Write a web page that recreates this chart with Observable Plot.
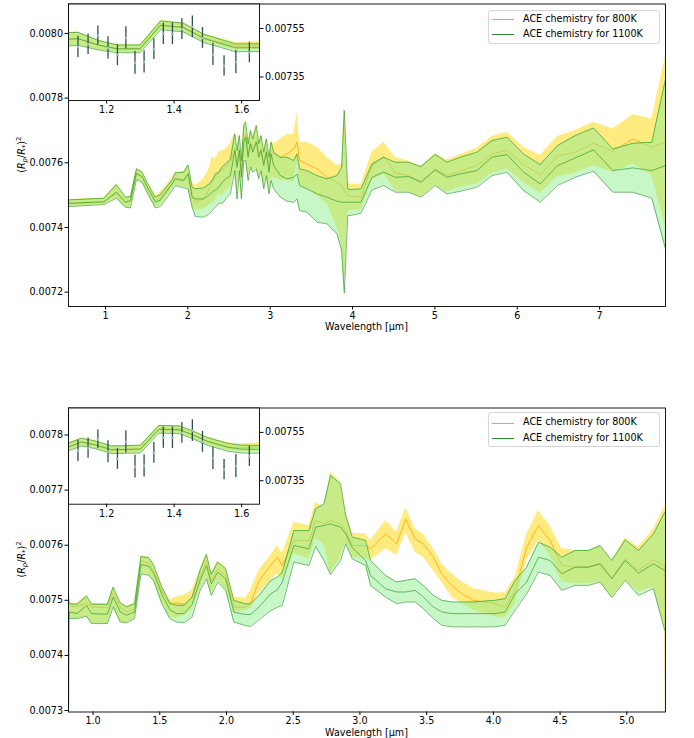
<!DOCTYPE html>
<html><head><meta charset="utf-8">
<script src="https://cdn.jsdelivr.net/npm/d3@7"></script>
<script src="https://cdn.jsdelivr.net/npm/@observablehq/plot@0.6"></script>
<style>
body{margin:0;background:#fff;font-family:"DejaVu Sans",sans-serif;}
#fig{position:relative;width:694px;height:738px;overflow:hidden;background:#fff;}
#fig svg{position:absolute;left:0;}
.legend{position:absolute;border:1px solid #d6d6d6;border-radius:3px;background:rgba(255,255,255,0.85);box-sizing:border-box;font-size:9.6px;color:#000;}
.legend .sw{position:absolute;left:3px;width:22px;height:0;border-top:1.2px solid;}
.legend .lb{position:absolute;left:34px;line-height:12px;white-space:nowrap;}
</style></head><body><div id="fig"></div>
<script>
// ---------- TOP PANEL (full spectrum) ----------
const topWl = [0.551, 0.98, 1.133, 1.243, 1.303, 1.376, 1.445, 1.514, 1.607, 1.667,
 1.809, 1.849, 1.95, 2.003, 2.052, 2.092, 2.19, 2.25, 2.295, 2.335,
 2.375, 2.42, 2.46, 2.517, 2.57, 2.598, 2.626, 2.651, 2.679, 2.703,
 2.732, 2.76, 2.788, 2.833, 2.861, 2.889, 2.922, 2.954, 2.986, 3.011,
 3.043, 3.124, 3.205, 3.286, 3.326, 3.358, 3.447, 3.569, 3.69, 3.812,
 3.868, 3.9, 3.941, 3.973, 4.103, 4.236, 4.378, 4.519, 4.681, 4.831,
 5.005, 5.146, 5.308, 5.51, 5.692, 5.875, 6.077, 6.279, 6.489, 6.704,
 6.926, 7.161, 7.404, 7.634, 7.80];
const top800Up = [0.0074863, 0.0074914, 0.0075347, 0.0074935, 0.0074956, 0.0075831, 0.0075728, 0.0075367, 0.0074986, 0.0075090,
 0.0075532, 0.0075708, 0.0075728, 0.0075934, 0.0075399, 0.0075296, 0.0075502, 0.0075759, 0.0076171, 0.0076120,
 0.0076326, 0.0076377, 0.0076429, 0.0076583, 0.0076944, 0.0076429, 0.0076892, 0.0076119, 0.0077201, 0.0077304,
 0.0076635, 0.0077046, 0.0076789, 0.0077201, 0.0076635, 0.0076892, 0.0076377, 0.0076789, 0.0076222, 0.0076686,
 0.0076583, 0.0076738, 0.0076871, 0.0076871, 0.0077562, 0.0076635, 0.0076635, 0.0076480, 0.0076171, 0.0075914,
 0.0075965, 0.0077798, 0.0075399, 0.0075347, 0.0075326, 0.0076326, 0.0076635, 0.0076171, 0.0076047, 0.0075883,
 0.0076295, 0.0076089, 0.0076253, 0.0076449, 0.0076809, 0.0076944, 0.0076480, 0.0076222, 0.0076809, 0.0076995,
 0.0077253, 0.0077046, 0.0077489, 0.0077356, 0.0079312];
const top800Mid = [0.0074729, 0.0074791, 0.0075069, 0.0074770, 0.0074811, 0.0075656, 0.0075553, 0.0075203, 0.0074832, 0.0074914,
 0.0075367, 0.0075522, 0.0075471, 0.0075677, 0.0074986, 0.0074781, 0.0074883, 0.0075141, 0.0075450, 0.0075553,
 0.0075708, 0.0075780, 0.0075862, 0.0076017, 0.0076459, 0.0075944, 0.0076459, 0.0075635, 0.0076717, 0.0076871,
 0.0076253, 0.0076665, 0.0076408, 0.0076717, 0.0076253, 0.0076459, 0.0075996, 0.0076408, 0.0075790, 0.0076356,
 0.0076274, 0.0076171, 0.0076274, 0.0076429, 0.0076635, 0.0076068, 0.0075965, 0.0075811, 0.0075553, 0.0075399,
 0.0075296, 0.0075141, 0.0074986, 0.0074966, 0.0074935, 0.0075914, 0.0076192, 0.0075687, 0.0075605, 0.0075399,
 0.0075811, 0.0075605, 0.0075739, 0.0075914, 0.0076274, 0.0076398, 0.0075944, 0.0075635, 0.0076212, 0.0076326,
 0.0076604, 0.0076356, 0.0076738, 0.0076480, 0.0076635];
const top800Lo = [0.0074647, 0.0074708, 0.0074904, 0.0074626, 0.0074605, 0.0075481, 0.0075399, 0.0075038, 0.0074626, 0.0074678,
 0.0075162, 0.0075316, 0.0075244, 0.0075244, 0.0074626, 0.0074523, 0.0074574, 0.0074678, 0.0074750, 0.0074832,
 0.0075038, 0.0074986, 0.0075141, 0.0075244, 0.0075790, 0.0074914, 0.0075790, 0.0074914, 0.0076099, 0.0076099,
 0.0075481, 0.0075893, 0.0075739, 0.0075842, 0.0075533, 0.0075790, 0.0075224, 0.0075636, 0.0075069, 0.0075481,
 0.0075553, 0.0075450, 0.0075450, 0.0075399, 0.0076017, 0.0075296, 0.0075193, 0.0074986, 0.0074729, 0.0074008,
 0.0073493, 0.0072051, 0.0074471, 0.0074523, 0.0074544, 0.0075450, 0.0075656, 0.0075141, 0.0075090, 0.0074935,
 0.0075296, 0.0075090, 0.0075244, 0.0075347, 0.0075677, 0.0075811, 0.0075399, 0.0075059, 0.0075574, 0.0075677,
 0.0075914, 0.0075708, 0.0075965, 0.0075605, 0.0074008];
const top1100Up = [0.0074853, 0.0074904, 0.0075326, 0.0074935, 0.0074956, 0.0075811, 0.0075708, 0.0075347, 0.0074935, 0.0075017,
 0.0075471, 0.0075687, 0.0075708, 0.0075934, 0.0075244, 0.0075193, 0.0075223, 0.0075326, 0.0075450, 0.0075656,
 0.0075708, 0.0075883, 0.0075965, 0.0076119, 0.0076892, 0.0076377, 0.0076841, 0.0076068, 0.0077150, 0.0077253,
 0.0076583, 0.0076995, 0.0076738, 0.0077150, 0.0076583, 0.0076841, 0.0076326, 0.0076738, 0.0076171, 0.0076635,
 0.0076326, 0.0076171, 0.0076171, 0.0076068, 0.0076274, 0.0075811, 0.0075759, 0.0075605, 0.0075502, 0.0075605,
 0.0075862, 0.0077613, 0.0075193, 0.0075172, 0.0075193, 0.0075965, 0.0076171, 0.0076017, 0.0076017, 0.0075883,
 0.0076253, 0.0076017, 0.0076171, 0.0076326, 0.0076686, 0.0076789, 0.0076274, 0.0075944, 0.0076532, 0.0076841,
 0.0077077, 0.0076429, 0.0076604, 0.0076635, 0.0078592];
const top1100Mid = [0.0074750, 0.0074791, 0.0075090, 0.0074781, 0.0074832, 0.0075677, 0.0075574, 0.0075223, 0.0074781, 0.0074853,
 0.0075347, 0.0075502, 0.0075450, 0.0075656, 0.0074935, 0.0074883, 0.0074883, 0.0074986, 0.0075090, 0.0075162,
 0.0075244, 0.0075399, 0.0075502, 0.0075605, 0.0076377, 0.0075862, 0.0076377, 0.0075553, 0.0076635, 0.0076789,
 0.0076171, 0.0076583, 0.0076326, 0.0076635, 0.0076171, 0.0076377, 0.0075914, 0.0076326, 0.0075708, 0.0076274,
 0.0075914, 0.0075605, 0.0075502, 0.0075553, 0.0075656, 0.0075296, 0.0075193, 0.0075038, 0.0074935, 0.0074811,
 0.0074781, 0.0074781, 0.0074781, 0.0074781, 0.0074781, 0.0075553, 0.0075708, 0.0075553, 0.0075574, 0.0075399,
 0.0075780, 0.0075553, 0.0075656, 0.0075759, 0.0076171, 0.0076253, 0.0075708, 0.0075347, 0.0075914, 0.0076150,
 0.0076398, 0.0075759, 0.0075841, 0.0075759, 0.0075914];
const top1100Lo = [0.0074647, 0.0074708, 0.0074904, 0.0074626, 0.0074605, 0.0075481, 0.0075399, 0.0075038, 0.0074605, 0.0074647,
 0.0075141, 0.0075296, 0.0075223, 0.0075193, 0.0074626, 0.0074338, 0.0074317, 0.0074399, 0.0074523, 0.0074626,
 0.0074750, 0.0074750, 0.0074883, 0.0075038, 0.0075759, 0.0074883, 0.0075759, 0.0074883, 0.0076068, 0.0076068,
 0.0075450, 0.0075862, 0.0075708, 0.0075811, 0.0075502, 0.0075759, 0.0075193, 0.0075605, 0.0075038, 0.0075450,
 0.0075193, 0.0074935, 0.0074811, 0.0074781, 0.0074883, 0.0074523, 0.0074471, 0.0074163, 0.0074111, 0.0073802,
 0.0073287, 0.0071969, 0.0074369, 0.0074369, 0.0074441, 0.0075162, 0.0075296, 0.0075090, 0.0075090, 0.0074935,
 0.0075296, 0.0075038, 0.0075120, 0.0075244, 0.0075605, 0.0075708, 0.0075141, 0.0074781, 0.0075296, 0.0075553,
 0.0075739, 0.0075090, 0.0075090, 0.0074904, 0.0073339];

// ---------- BOTTOM PANEL (0.8-5.3 um) ----------
const botWl = [0.816, 0.822, 0.88, 0.952, 0.988, 1.108, 1.151, 1.204, 1.251, 1.311,
 1.359, 1.419, 1.455, 1.515, 1.575, 1.623, 1.683, 1.743, 1.802, 1.85,
 1.886, 1.934, 1.994,
 2.055, 2.143, 2.18, 2.243, 2.331, 2.381, 2.418, 2.505, 2.618, 2.668,
 2.73, 2.78, 2.855, 2.893, 2.943, 3.043, 3.08, 3.193,
 3.275, 3.343, 3.413, 3.475, 3.55, 3.613, 3.688, 3.763, 3.85,
 4.013, 4.088, 4.163, 4.25, 4.338, 4.425, 4.513, 4.613, 4.713, 4.8,
 4.888, 4.988, 5.088, 5.2, 5.284, 5.29];
const bot800Up = [0.0075120, 0.0074952, 0.0074940, 0.0075090, 0.0074940, 0.0074940, 0.0075253, 0.0074964, 0.0074892, 0.0074952,
 0.0075813, 0.0075783, 0.0075651, 0.0075271, 0.0075000, 0.0075060, 0.0075090, 0.0075181, 0.0075572, 0.0075855,
 0.0075494, 0.0075711, 0.0075602,
 0.0075056, 0.0075044, 0.0075178, 0.0075541, 0.0075813, 0.0075994, 0.0075843, 0.0076418, 0.0076357, 0.0076781,
 0.0076690, 0.0077325, 0.0077144, 0.0076630, 0.0076218, 0.0076206, 0.0076085, 0.0076448,
 0.0076235, 0.0076687, 0.0076295, 0.0076205, 0.0075934, 0.0075663, 0.0075482, 0.0075331, 0.0075211,
 0.0075133, 0.0075133, 0.0075422, 0.0076205, 0.0076626, 0.0076355, 0.0075934, 0.0075904, 0.0075904, 0.0075994,
 0.0075723, 0.0076133, 0.0075964, 0.0076295, 0.0076687, 0.0076687];
const bot800Mid = [0.0074892, 0.0074892, 0.0074892, 0.0074952, 0.0074880, 0.0074867, 0.0075133, 0.0074867, 0.0074789, 0.0074849,
 0.0075723, 0.0075663, 0.0075542, 0.0075169, 0.0074928, 0.0074952, 0.0074928, 0.0075060, 0.0075422, 0.0075723,
 0.0075361, 0.0075572, 0.0075452,
 0.0074875, 0.0074875, 0.0074935, 0.0075359, 0.0075631, 0.0075783, 0.0075631, 0.0076085, 0.0076085, 0.0076448,
 0.0076388, 0.0076448, 0.0076388, 0.0076266, 0.0075994, 0.0075994, 0.0075934, 0.0076206,
 0.0076024, 0.0076476, 0.0076114, 0.0076024, 0.0075783, 0.0075482, 0.0075271, 0.0075120, 0.0075000,
 0.0074940, 0.0074880, 0.0075181, 0.0075964, 0.0076355, 0.0076084, 0.0075633, 0.0075602, 0.0075602, 0.0075663,
 0.0075392, 0.0075753, 0.0075542, 0.0075735, 0.0075633, 0.0072500];
const bot800Lo = [0.0074669, 0.0074669, 0.0074669, 0.0074711, 0.0074578, 0.0074578, 0.0074880, 0.0074608, 0.0074590, 0.0074669,
 0.0075494, 0.0075470, 0.0075361, 0.0074970, 0.0074699, 0.0074669, 0.0074729, 0.0074831, 0.0075211, 0.0075422,
 0.0075120, 0.0075349, 0.0075211,
 0.0074784, 0.0074815, 0.0074845, 0.0075117, 0.0075359, 0.0075480, 0.0075389, 0.0075843, 0.0075752, 0.0076115,
 0.0076025, 0.0075480, 0.0075783, 0.0076055, 0.0075783, 0.0075752, 0.0075722, 0.0075934,
 0.0075813, 0.0076235, 0.0075873, 0.0075783, 0.0075542, 0.0075331, 0.0075060, 0.0074940, 0.0074819,
 0.0074699, 0.0074669, 0.0074940, 0.0075723, 0.0076084, 0.0075813, 0.0075331, 0.0075301, 0.0075301, 0.0075331,
 0.0075060, 0.0075361, 0.0075151, 0.0075241, 0.0074518, 0.0074518];
const bot1100Up = [0.0075120, 0.0074940, 0.0074928, 0.0075078, 0.0074928, 0.0074928, 0.0075241, 0.0074952, 0.0074880, 0.0074940,
 0.0075795, 0.0075771, 0.0075633, 0.0075241, 0.0074952, 0.0074910, 0.0074910, 0.0075060, 0.0075542, 0.0075831,
 0.0075470, 0.0075693, 0.0075572,
 0.0074996, 0.0074935, 0.0074935, 0.0075087, 0.0075359, 0.0075420, 0.0075510, 0.0076266, 0.0076266, 0.0076660,
 0.0076750, 0.0077265, 0.0077114, 0.0076539, 0.0076145, 0.0076085, 0.0075722, 0.0075450,
 0.0075331, 0.0075361, 0.0075392, 0.0075271, 0.0075090, 0.0075000, 0.0074970, 0.0074970, 0.0074970,
 0.0075000, 0.0075030, 0.0075361, 0.0075602, 0.0076054, 0.0075964, 0.0075783, 0.0075904, 0.0075904, 0.0075994,
 0.0075723, 0.0076096, 0.0075904, 0.0076205, 0.0076596, 0.0076596];
const bot1100Mid = [0.0072600, 0.0074789, 0.0074759, 0.0074910, 0.0074759, 0.0074747, 0.0075060, 0.0074789, 0.0074729, 0.0074789,
 0.0075651, 0.0075614, 0.0075494, 0.0075108, 0.0074831, 0.0074759, 0.0074759, 0.0074928, 0.0075361, 0.0075633,
 0.0075301, 0.0075512, 0.0075392,
 0.0074784, 0.0074742, 0.0074742, 0.0074875, 0.0075117, 0.0075190, 0.0075329, 0.0075994, 0.0075934, 0.0076327,
 0.0076357, 0.0076388, 0.0076327, 0.0076206, 0.0075952, 0.0075722, 0.0075450, 0.0075208,
 0.0075151, 0.0075151, 0.0075181, 0.0075060, 0.0074880, 0.0074789, 0.0074759, 0.0074759, 0.0074759,
 0.0074759, 0.0074789, 0.0075120, 0.0075331, 0.0075783, 0.0075723, 0.0075482, 0.0075602, 0.0075602, 0.0075663,
 0.0075392, 0.0075723, 0.0075494, 0.0075663, 0.0075542, 0.0075542];
const bot1100Lo = [0.0074669, 0.0074669, 0.0074669, 0.0074711, 0.0074578, 0.0074578, 0.0074880, 0.0074608, 0.0074590, 0.0074669,
 0.0075482, 0.0075452, 0.0075349, 0.0074940, 0.0074669, 0.0074608, 0.0074590, 0.0074699, 0.0075181, 0.0075392,
 0.0075090, 0.0075331, 0.0075181,
 0.0074603, 0.0074542, 0.0074524, 0.0074645, 0.0074815, 0.0074875, 0.0074905, 0.0075692, 0.0075631, 0.0075976,
 0.0075722, 0.0075468, 0.0075722, 0.0076025, 0.0075752, 0.0075631, 0.0075268, 0.0075056,
 0.0074940, 0.0074970, 0.0074970, 0.0074849, 0.0074669, 0.0074548, 0.0074518, 0.0074518, 0.0074518,
 0.0074518, 0.0074548, 0.0074819, 0.0075120, 0.0075512, 0.0075452, 0.0075181, 0.0075271, 0.0075271, 0.0075331,
 0.0075048, 0.0075361, 0.0075090, 0.0075211, 0.0074458, 0.0074458];

// ---------- INSETS (WFC3 band) ----------
const obsWl = [1.115, 1.145, 1.174, 1.204, 1.232, 1.257, 1.284, 1.311, 1.340, 1.368, 1.395, 1.423, 1.454, 1.484, 1.515, 1.548, 1.583, 1.623];
const obsDepth = [0.007474, 0.007485, 0.007521, 0.007470, 0.007440, 0.007511, 0.007408, 0.007412, 0.007465, 0.007528, 0.007528, 0.007548, 0.007557, 0.007511, 0.007443, 0.007396, 0.007411, 0.007451];
const obsErr = [0.000044, 0.000042, 0.000039, 0.000046, 0.000043, 0.000046, 0.000047, 0.000046, 0.000043, 0.000044, 0.000045, 0.000043, 0.000045, 0.000043, 0.000046, 0.000042, 0.000048, 0.000042];

const insetTopWl = [1.087, 1.115, 1.177, 1.232, 1.299, 1.360, 1.427, 1.488, 1.582, 1.654];
const insetTop800Up = [0.007534, 0.007535, 0.007501, 0.007483, 0.007483, 0.007583, 0.007574, 0.007528, 0.007492, 0.007497];
const insetTop800Mid = [0.007506, 0.007508, 0.007481, 0.007467, 0.007467, 0.007565, 0.007556, 0.007511, 0.007476, 0.007479];
const insetTop800Lo = [0.007478, 0.007481, 0.007461, 0.007451, 0.007451, 0.007547, 0.007538, 0.007494, 0.007460, 0.007463];
const insetTop1100Up = [0.007533, 0.007534, 0.007500, 0.007482, 0.007482, 0.007581, 0.007572, 0.007526, 0.007486, 0.007487];
const insetTop1100Mid = [0.007506, 0.007508, 0.007481, 0.007466, 0.007466, 0.007563, 0.007554, 0.007509, 0.007470, 0.007471];
const insetTop1100Lo = [0.007478, 0.007481, 0.007461, 0.007450, 0.007450, 0.007545, 0.007536, 0.007492, 0.007454, 0.007455];

const insetBotWl = [1.087, 1.125, 1.165, 1.215, 1.300, 1.355, 1.415, 1.455, 1.500, 1.560, 1.600, 1.654];
const insetBot800Up = [0.007506, 0.007526, 0.007515, 0.007494, 0.007497, 0.007580, 0.007578, 0.007557, 0.007530, 0.007507, 0.007502, 0.007508];
const insetBot800Mid = [0.007490, 0.007510, 0.007499, 0.007478, 0.007481, 0.007564, 0.007562, 0.007541, 0.007514, 0.007491, 0.007486, 0.007490];
const insetBot800Lo = [0.007474, 0.007494, 0.007483, 0.007462, 0.007465, 0.007548, 0.007546, 0.007525, 0.007498, 0.007475, 0.007470, 0.007474];
const insetBot1100Up = [0.007506, 0.007526, 0.007515, 0.007494, 0.007497, 0.007579, 0.007577, 0.007556, 0.007528, 0.007504, 0.007497, 0.007496];
const insetBot1100Mid = [0.007490, 0.007510, 0.007499, 0.007478, 0.007481, 0.007563, 0.007561, 0.007540, 0.007512, 0.007488, 0.007481, 0.007480];
const insetBot1100Lo = [0.007474, 0.007494, 0.007483, 0.007462, 0.007465, 0.007547, 0.007545, 0.007524, 0.007496, 0.007472, 0.007465, 0.007464];

// ---------- ticks / labels ----------
const topXTicks = [1, 2, 3, 4, 5, 6, 7];
const topYTicks = [0.0072, 0.0074, 0.0076, 0.0078, 0.0080];
const botXTicks = [1.0, 1.5, 2.0, 2.5, 3.0, 3.5, 4.0, 4.5, 5.0];
const botYTicks = [0.0073, 0.0074, 0.0075, 0.0076, 0.0077, 0.0078];
const insetXTicks = [1.2, 1.4, 1.6];
const insetYTicks = [0.00735, 0.00755];
const seriesLabels = ["ACE chemistry for 800K", "ACE chemistry for 1100K"];
const xLabel = "Wavelength [\u03bcm]";

// ---------- styling ----------
const GOLD = "#FFD700", LGREEN = "#90EE90", ORANGE = "#FFA500", GREEN = "#2f9a2f";
const FONT = "DejaVu Sans";
const baseStyle = {background: "transparent", fontFamily: FONT, fontSize: "9.6px", color: "black", overflow: "visible"};

function rowsOf(wl, u8, m8, l8, u11, m11, l11) {
  return wl.map((w, i) => ({w, u8: u8[i], m8: m8[i], l8: l8[i], u11: u11[i], m11: m11[i], l11: l11[i]}));
}

function modelMarks(rows) {
  return [
    Plot.areaY(rows, {x: "w", y1: "l8", y2: "u8", fill: GOLD, fillOpacity: 0.5, clip: true}),
    Plot.line(rows, {x: "w", y: "m8", stroke: ORANGE, strokeWidth: 0.8, clip: true}),
    Plot.areaY(rows, {x: "w", y1: "l11", y2: "u11", fill: LGREEN, fillOpacity: 0.5, clip: true}),
    Plot.line(rows, {x: "w", y: "u11", stroke: GREEN, strokeWidth: 0.8, strokeOpacity: 0.85, clip: true}),
    Plot.line(rows, {x: "w", y: "m11", stroke: GREEN, strokeWidth: 0.8, strokeOpacity: 0.85, clip: true}),
    Plot.line(rows, {x: "w", y: "l11", stroke: GREEN, strokeWidth: 0.8, strokeOpacity: 0.85, clip: true})
  ];
}

function yLabel(svg, cx, cy) {
  const t = d3.select(svg).append("text")
    .attr("transform", `translate(${cx},${cy}) rotate(-90)`)
    .attr("text-anchor", "middle").attr("fill", "black")
    .attr("font-family", FONT).attr("font-size", 9.6);
  t.append("tspan").text("(");
  t.append("tspan").attr("font-style", "italic").text("R");
  t.append("tspan").attr("font-style", "italic").attr("font-size", 6.8).attr("dy", 2.2).text("p");
  t.append("tspan").attr("dy", -2.2).text("/");
  t.append("tspan").attr("font-style", "italic").text("R");
  t.append("tspan").attr("font-size", 6.8).attr("dy", 2.2).text("*");
  t.append("tspan").attr("dy", -2.2).text(")");
  t.append("tspan").attr("font-size", 6.8).attr("dy", -4).text("2");
}
function xLabelText(svg, cx, y) {
  d3.select(svg).append("text").attr("x", cx).attr("y", y).attr("text-anchor", "middle")
    .attr("font-family", FONT).attr("font-size", 9.6).attr("fill", "black").text(xLabel);
}

function mainPlot(rows, o) {
  const svg = Plot.plot({
    width: 694, height: o.height,
    marginLeft: 68, marginRight: 29, marginTop: o.mt, marginBottom: o.mb,
    x: {domain: o.xDomain},
    y: {domain: o.yDomain},
    style: baseStyle,
    marks: [
      ...modelMarks(rows),
      Plot.axisX({ticks: o.xTicks, tickFormat: o.xFmt, tickSize: 3.5, tickPadding: o.xPad, label: null}),
      Plot.axisY({ticks: o.yTicks, tickFormat: d3.format(".4f"), tickSize: 3.5, tickPadding: 2, label: null}),
      Plot.frame({stroke: "black", strokeWidth: 0.9})
    ]
  });
  svg.style.top = o.top + "px";
  yLabel(svg, 25, (o.mt + o.height - o.mb) / 2);
  xLabelText(svg, 366.5, o.xLabelY);
  return svg;
}

function insetPlot(rows, o) {
  const obs = obsWl.map((w, i) => ({w, v: obsDepth[i], e: obsErr[i]}));
  const svg = Plot.plot({
    width: 320, height: o.height,
    marginLeft: 68, marginRight: 61, marginTop: o.mt, marginBottom: o.mb,
    x: {domain: [1.087, 1.653]},
    y: {domain: [0.007253, 0.007651]},
    style: baseStyle,
    marks: [
      Plot.frame({fill: "white", stroke: null}),
      ...modelMarks(rows),
      Plot.ruleX(obs, {x: "w", y1: d => d.v - d.e, y2: d => d.v + d.e, stroke: "#2F4F4F", strokeWidth: 1.3}),
      Plot.dot(obs, {x: "w", y: "v", r: 1.3, fill: "#a9bcbc", stroke: null}),
      Plot.axisX({ticks: insetXTicks, tickFormat: d3.format(".1f"), tickSize: 3.5, tickPadding: 2, label: null}),
      Plot.axisY({anchor: "right", ticks: insetYTicks, tickFormat: d3.format(".5f"), tickSize: 3.5, tickPadding: 2, label: null}),
      Plot.frame({stroke: "black", strokeWidth: 0.9})
    ]
  });
  svg.style.top = o.top + "px";
  return svg;
}

function legend(fig, left, top, height, rowYs) {
  const box = document.createElement("div");
  box.className = "legend";
  Object.assign(box.style, {left: left + "px", top: top + "px", width: "172px", height: height + "px"});
  const cols = [ORANGE, "#2e8b2e"];
  seriesLabels.forEach((lab, i) => {
    const sw = document.createElement("div");
    sw.className = "sw";
    sw.style.top = rowYs[i] + "px";
    sw.style.borderTopColor = cols[i];
    box.appendChild(sw);
    const tx = document.createElement("div");
    tx.className = "lb";
    tx.style.top = (rowYs[i] - 6.5) + "px";
    tx.textContent = lab;
    box.appendChild(tx);
  });
  fig.appendChild(box);
}

const fig = document.getElementById("fig");

const topRows = rowsOf(topWl, top800Up, top800Mid, top800Lo, top1100Up, top1100Mid, top1100Lo);
fig.appendChild(mainPlot(topRows, {
  top: 0, height: 340, mt: 3.5, mb: 34,
  xDomain: [0.551, 7.80], yDomain: [0.0071556, 0.0080910],
  xTicks: topXTicks, xFmt: d3.format("d"), xPad: 2, yTicks: topYTicks, xLabelY: 330
}));
fig.appendChild(insetPlot(rowsOf(insetTopWl, insetTop800Up, insetTop800Mid, insetTop800Lo, insetTop1100Up, insetTop1100Mid, insetTop1100Lo),
  {top: 0, height: 125, mt: 3.5, mb: 25}));
legend(fig, 488, 10, 34, [8, 23]);

const botRows = rowsOf(botWl, bot800Up, bot800Mid, bot800Lo, bot1100Up, bot1100Mid, bot1100Lo);
fig.appendChild(mainPlot(botRows, {
  top: 400, height: 338, mt: 7.5, mb: 26.5,
  xDomain: [0.816, 5.29], yDomain: [0.0072973, 0.007849],
  xTicks: botXTicks, xFmt: d3.format(".1f"), xPad: 1.5, yTicks: botYTicks, xLabelY: 335.5
}));
fig.appendChild(insetPlot(rowsOf(insetBotWl, insetBot800Up, insetBot800Mid, insetBot800Lo, insetBot1100Up, insetBot1100Mid, insetBot1100Lo),
  {top: 400, height: 130, mt: 7.5, mb: 26.3}));
legend(fig, 488, 412, 35, [9.5, 25]);
</script></body></html>
